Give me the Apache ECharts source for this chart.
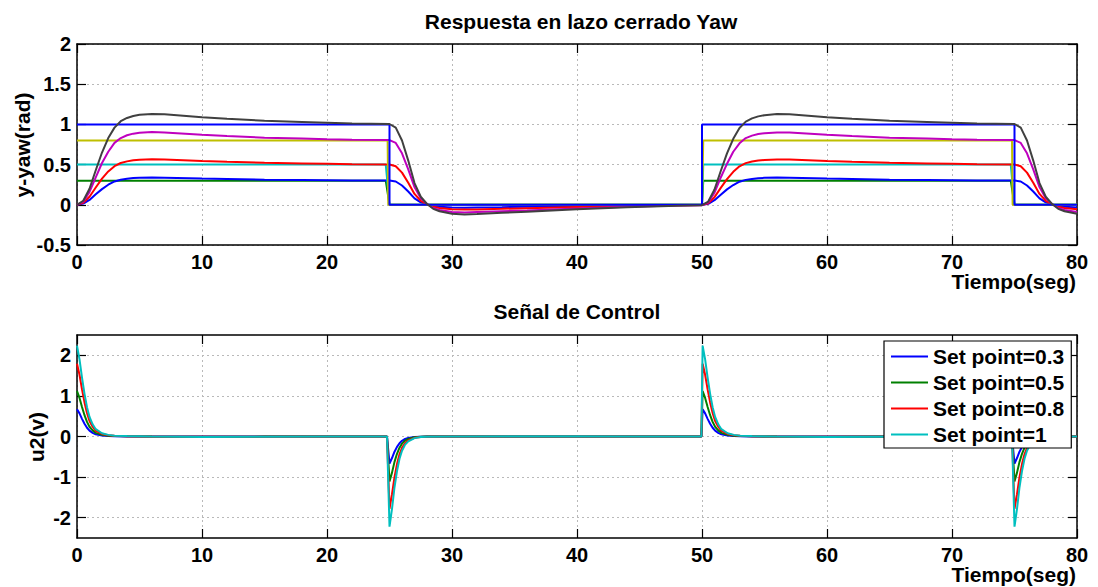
<!DOCTYPE html>
<html>
<head>
<meta charset="utf-8">
<script src="https://cdn.jsdelivr.net/npm/echarts@6/dist/echarts.min.js"></script>
<style>
html,body{margin:0;padding:0;background:#fff;}
#c{width:1098px;height:587px;}
</style>
</head>
<body>
<div id="c"></div>
<script>
// ---------- tick labels ----------
const xTicks = [0, 10, 20, 30, 40, 50, 60, 70, 80];
const yTopTicks = [-0.5, 0, 0.5, 1, 1.5, 2];
const yBotTicks = [-2, -1, 0, 1, 2];

// ---------- text ----------
const titleTop = 'Respuesta en lazo cerrado Yaw';
const titleBot = 'Señal de Control';
const yNameTop = 'y-yaw(rad)';
const yNameBot = 'u2(v)';
const xName = 'Tiempo(seg)';
const ctrlNames = ['Set point=0.3', 'Set point=0.5', 'Set point=0.8', 'Set point=1'];

// ---------- top plot: set-point references (step signals) ----------
const refT1 = [0, 25, 25, 50, 50, 75, 75, 80];
const refV1 = [1, 1, 0, 0, 1, 1, 0, 0];
const refT08 = [0, 24.85, 24.9, 50, 50.1, 74.8, 74.85, 80];
const refV08 = [0.8, 0.8, 0, 0, 0.8, 0.8, 0, 0];
const refT05 = [0, 24.7, 25, 50, 50.1, 74.7, 75, 80];
const refV05 = [0.5, 0.5, 0, 0, 0.5, 0.5, 0, 0];
const refT03 = [0, 24.7, 25, 50, 50.1, 74.7, 75, 80];
const refV03 = [0.3, 0.3, 0, 0, 0.3, 0.3, 0, 0];

// ---------- top plot: closed-loop responses ----------
const respT = [0,0.5,1,1.5,2,2.5,3,3.5,4,4.5,5,6,7,8,10,12,15,18,20,22,25,
  25.5,26,26.5,27,27.5,28,28.5,29,30,31,32,34,36,40,44,48,50,
  50.5,51,51.5,52,52.5,53,53.5,54,54.5,55,56,57,58,60,62,65,68,70,72,75,
  75.5,76,76.5,77,77.5,78,78.5,79,80];
const resp1 = [0,0.05,0.2,0.43,0.65,0.83,0.96,1.04,1.08,1.105,1.12,1.13,1.125,1.115,1.09,1.07,1.045,1.03,1.02,1.01,1.005,
  0.96,0.8,0.55,0.27,0.1,0.01,-0.05,-0.08,-0.11,-0.12,-0.115,-0.1,-0.085,-0.055,-0.03,-0.012,-0.005,
  0.04,0.19,0.42,0.64,0.82,0.955,1.035,1.075,1.1,1.115,1.128,1.125,1.115,1.09,1.07,1.045,1.03,1.02,1.01,1.005,
  0.96,0.8,0.55,0.27,0.1,0.01,-0.05,-0.08,-0.11];
const resp08 = [0,0.04,0.16,0.34,0.52,0.66,0.77,0.83,0.865,0.885,0.895,0.905,0.9,0.89,0.87,0.855,0.835,0.825,0.815,0.81,0.805,
  0.77,0.64,0.44,0.22,0.08,0.01,-0.04,-0.065,-0.09,-0.095,-0.09,-0.08,-0.07,-0.045,-0.025,-0.01,-0.005,
  0.03,0.15,0.34,0.51,0.66,0.765,0.83,0.86,0.88,0.89,0.9,0.9,0.89,0.87,0.855,0.835,0.825,0.815,0.81,0.805,
  0.77,0.64,0.44,0.22,0.08,0.01,-0.04,-0.065,-0.09];
const resp05 = [0,0.025,0.1,0.215,0.325,0.415,0.48,0.52,0.54,0.553,0.56,0.565,0.562,0.557,0.545,0.535,0.522,0.515,0.51,0.505,0.502,
  0.48,0.4,0.275,0.135,0.05,0.005,-0.025,-0.04,-0.055,-0.06,-0.057,-0.05,-0.042,-0.028,-0.015,-0.006,-0.003,
  0.02,0.095,0.21,0.32,0.41,0.478,0.518,0.538,0.55,0.558,0.564,0.562,0.557,0.545,0.535,0.522,0.515,0.51,0.505,0.502,
  0.48,0.4,0.275,0.135,0.05,0.005,-0.025,-0.04,-0.055];
const resp03 = [0,0.015,0.06,0.13,0.195,0.25,0.29,0.312,0.324,0.332,0.336,0.339,0.337,0.334,0.327,0.321,0.313,0.309,0.306,0.303,0.301,
  0.29,0.24,0.165,0.08,0.03,0.003,-0.015,-0.024,-0.033,-0.036,-0.034,-0.03,-0.025,-0.017,-0.009,-0.004,-0.002,
  0.012,0.057,0.126,0.192,0.246,0.287,0.31,0.322,0.33,0.335,0.338,0.337,0.334,0.327,0.321,0.313,0.309,0.306,0.303,0.301,
  0.29,0.24,0.165,0.08,0.03,0.003,-0.015,-0.024,-0.033];

// ---------- bottom plot: control signal u2 ----------
const ctrlT = [0,0.2,0.4,0.6,0.8,1,1.25,1.5,2,2.5,3,4,6,10,15,20,24.8,
  25,25.2,25.4,25.6,25.8,26,26.25,26.5,27,27.5,28,30,35,40,45,49.95,
  50.05,50.25,50.45,50.65,50.85,51.05,51.3,51.55,52.05,52.55,53.05,54,56,60,65,70,74.8,
  75,75.2,75.4,75.6,75.8,76,76.25,76.5,77,77.5,78,80];
const u03 = [0.67,0.57,0.435,0.315,0.216,0.144,0.09,0.054,0.024,0.012,0.006,0.003,0,-0.003,-0.002,0,0,
  -0.67,-0.53,-0.375,-0.255,-0.165,-0.105,-0.06,-0.036,-0.012,-0.005,-0.002,0,0.002,0.002,0,0,
  0.67,0.57,0.435,0.315,0.216,0.144,0.09,0.054,0.024,0.012,0.006,0.003,0,-0.003,-0.002,0,0,
  -0.67,-0.53,-0.375,-0.255,-0.165,-0.105,-0.06,-0.036,-0.012,-0.005,-0.002,0];
const u05 = [1.12,0.95,0.725,0.525,0.36,0.24,0.15,0.09,0.04,0.02,0.01,0.005,0,-0.005,-0.003,0,0,
  -1.11,-0.89,-0.625,-0.425,-0.275,-0.175,-0.1,-0.06,-0.02,-0.008,-0.003,0,0.003,0.003,0,0,
  1.12,0.95,0.725,0.525,0.36,0.24,0.15,0.09,0.04,0.02,0.01,0.005,0,-0.005,-0.003,0,0,
  -1.11,-0.89,-0.625,-0.425,-0.275,-0.175,-0.1,-0.06,-0.02,-0.008,-0.003,0];
const u08 = [1.79,1.52,1.16,0.84,0.58,0.38,0.24,0.14,0.064,0.032,0.016,0.008,0,-0.008,-0.004,0,0,
  -1.78,-1.42,-1.0,-0.68,-0.44,-0.28,-0.16,-0.096,-0.032,-0.012,-0.004,0,0.004,0.004,0,0,
  1.79,1.52,1.16,0.84,0.58,0.38,0.24,0.14,0.064,0.032,0.016,0.008,0,-0.008,-0.004,0,0,
  -1.78,-1.42,-1.0,-0.68,-0.44,-0.28,-0.16,-0.096,-0.032,-0.012,-0.004,0];
const u1 = [2.24,1.9,1.45,1.05,0.72,0.48,0.3,0.18,0.08,0.04,0.02,0.01,0,-0.01,-0.005,0,0,
  -2.22,-1.78,-1.25,-0.85,-0.55,-0.35,-0.2,-0.12,-0.04,-0.015,-0.005,0,0.005,0.005,0,0,
  2.24,1.9,1.45,1.05,0.72,0.48,0.3,0.18,0.08,0.04,0.02,0.01,0,-0.01,-0.005,0,0,
  -2.22,-1.78,-1.25,-0.85,-0.55,-0.35,-0.2,-0.12,-0.04,-0.015,-0.005,0];

// ---------- styling ----------
const FONT = '"Liberation Sans", Arial, Helvetica, sans-serif';
const C = {blue:'#0000ff', green:'#008000', red:'#ff0000', cyan:'#00bfbf',
           yellow:'#bfbf00', magenta:'#bf00bf', black:'#404040'};

function pairs(t, v) { return t.map((x, i) => [x, v[i]]); }

const axisLine = {show:true, onZero:false, lineStyle:{color:'#000', width:1.5}};
const tickStyle = {color:'#000', width:1.2};
const gridLine = {show:true, lineStyle:{color:'#b9b9b9', width:1, type:[2,3]}};
const labelStyle = {color:'#000', fontWeight:'bold', fontSize:20, fontFamily:FONT};

function xAxes(g) {
  return [
    {type:'value', gridIndex:g, min:0, max:80, interval:10, position:'bottom',
     axisLine, axisTick:{show:true, inside:true, length:9, lineStyle:tickStyle, customValues:xTicks},
     axisLabel:Object.assign({margin:9, lineHeight:16, customValues:xTicks}, labelStyle), splitLine:gridLine},
    {type:'value', gridIndex:g, min:0, max:80, interval:10, position:'top',
     axisLine, axisTick:{show:true, inside:true, length:9, lineStyle:tickStyle},
     axisLabel:{show:false}, splitLine:{show:false}}
  ];
}
function yAxes(g, min, max, ticks) {
  return [
    {type:'value', gridIndex:g, min, max, position:'left',
     axisLine, axisTick:{show:true, inside:true, length:9, lineStyle:tickStyle, customValues:ticks},
     axisLabel:Object.assign({margin:6, customValues:ticks}, labelStyle), splitLine:gridLine},
    {type:'value', gridIndex:g, min, max, position:'right',
     axisLine, axisTick:{show:true, inside:true, length:9, lineStyle:tickStyle, customValues:ticks},
     axisLabel:{show:false}, splitLine:{show:false}}
  ];
}

function line(name, color, data, xi, yi) {
  return {type:'line', name, data, xAxisIndex:xi, yAxisIndex:yi, symbol:'none', smooth:false,
          lineStyle:{color, width:2}, itemStyle:{color}, animation:false, silent:true};
}

const option = {
  backgroundColor:'#fff',
  animation:false,
  grid:[
    {left:77, top:44, width:1000, height:201},
    {left:77, top:335, width:1000, height:203}
  ],
  xAxis:[...xAxes(0), ...xAxes(1)],
  yAxis:[...yAxes(0, -0.5, 2, yTopTicks), ...yAxes(1, -2.5, 2.5, yBotTicks)],
  legend:{
    data:ctrlNames, orient:'vertical', left:884, top:341,
    icon:'rect', itemWidth:37, itemHeight:2, itemGap:5, padding:[5,7,3,7],
    backgroundColor:'#fff', borderColor:'#000', borderWidth:1.2, borderRadius:0,
    textStyle:{color:'#000', fontWeight:'bold', fontSize:21, lineHeight:21, fontFamily:FONT},
    selectedMode:false
  },
  series:[
    line('ref 0.3', C.green, pairs(refT03, refV03), 0, 0),
    line('y 0.3', C.blue, pairs(respT, resp03), 0, 0),
    line('ref 0.5', C.cyan, pairs(refT05, refV05), 0, 0),
    line('y 0.5', C.red, pairs(respT, resp05), 0, 0),
    line('ref 0.8', C.yellow, pairs(refT08, refV08), 0, 0),
    line('y 0.8', C.magenta, pairs(respT, resp08), 0, 0),
    line('ref 1', C.blue, pairs(refT1, refV1), 0, 0),
    line('y 1', C.black, pairs(respT, resp1), 0, 0),

    line(ctrlNames[0], C.blue, pairs(ctrlT, u03), 2, 2),
    line(ctrlNames[1], C.green, pairs(ctrlT, u05), 2, 2),
    line(ctrlNames[2], C.red, pairs(ctrlT, u08), 2, 2),
    line(ctrlNames[3], C.cyan, pairs(ctrlT, u1), 2, 2)
  ],
  graphic:[
    {type:'text', x:581, y:21, style:{text:titleTop, align:'center', verticalAlign:'middle',
      fontSize:21, fontWeight:'bold', fontFamily:FONT, fill:'#000'}},
    {type:'text', x:577, y:311, style:{text:titleBot, align:'center', verticalAlign:'middle',
      fontSize:21, fontWeight:'bold', fontFamily:FONT, fill:'#000'}},
    {type:'text', x:22, y:145, rotation:Math.PI/2, style:{text:yNameTop, align:'center', verticalAlign:'middle',
      fontSize:21, fontWeight:'bold', fontFamily:FONT, fill:'#000'}},
    {type:'text', x:36, y:437, rotation:Math.PI/2, style:{text:yNameBot, align:'center', verticalAlign:'middle',
      fontSize:21, fontWeight:'bold', fontFamily:FONT, fill:'#000'}},
    {type:'text', x:1076, y:281, style:{text:xName, align:'right', verticalAlign:'middle',
      fontSize:21, lineHeight:16, fontWeight:'bold', fontFamily:FONT, fill:'#000'}},
    {type:'text', x:1076, y:574, style:{text:xName, align:'right', verticalAlign:'middle',
      fontSize:21, lineHeight:16, fontWeight:'bold', fontFamily:FONT, fill:'#000'}}
  ]
};

const chart = echarts.init(document.getElementById('c'), null, {renderer:'svg'});
chart.setOption(option);
</script>
</body>
</html>
